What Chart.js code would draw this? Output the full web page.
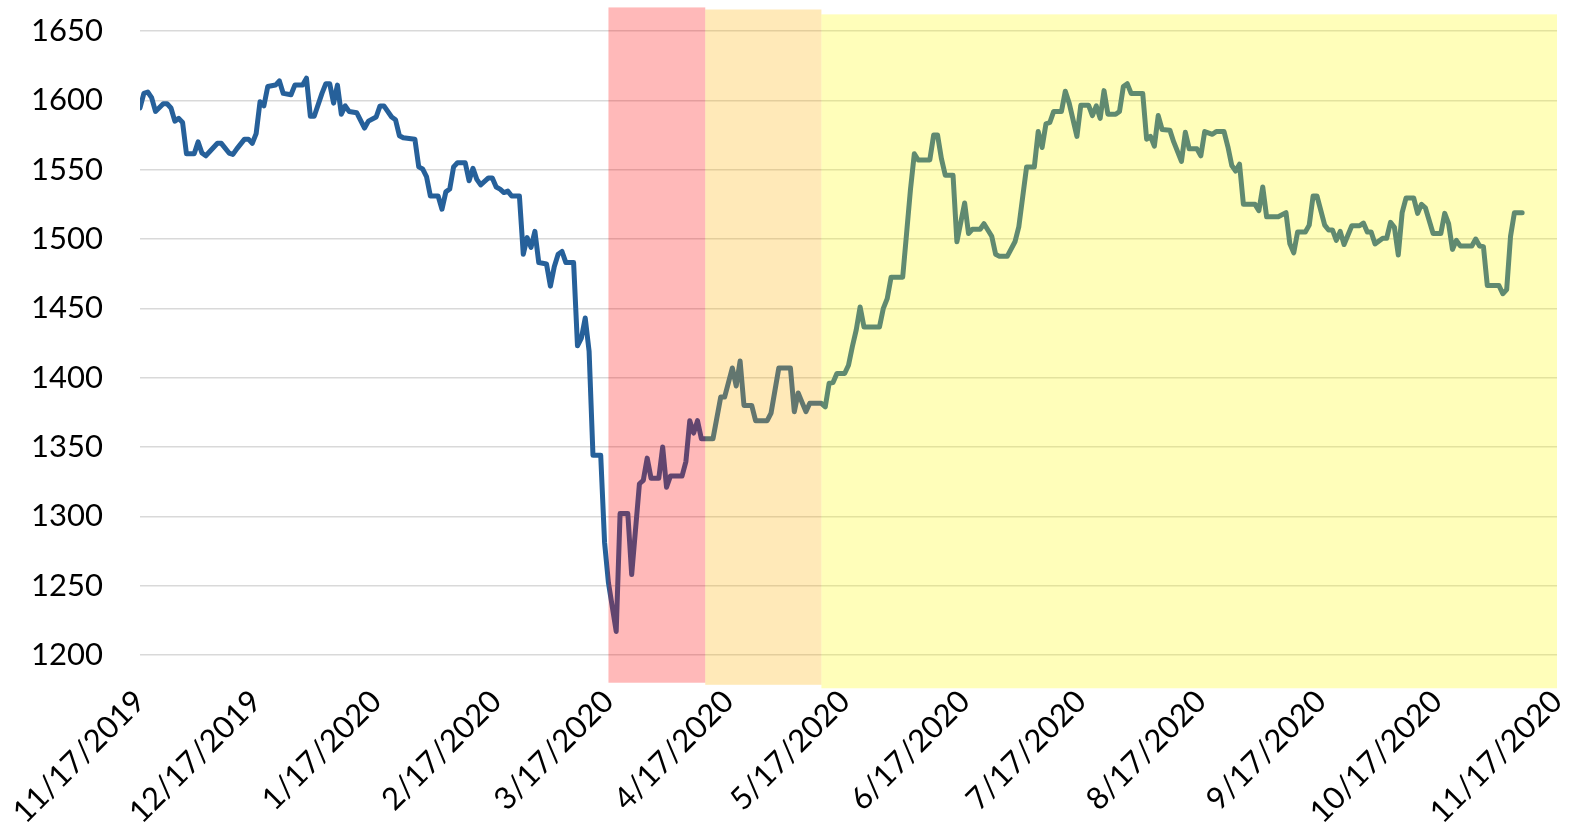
<!DOCTYPE html>
<html>
<head>
<meta charset="utf-8">
<script src="https://cdn.jsdelivr.net/npm/chart.js@4.4.1/dist/chart.umd.min.js"></script>
<style>
  html, body { margin: 0; padding: 0; background: #fff; }
  #wrap { width: 1569px; height: 839px; }
</style>
</head>
<body>
<div id="wrap"><canvas id="priceChart" width="1569" height="839"></canvas></div>
<script>
// Dades: dies des de la data inicial i valor de tancament
const startDate = '11/17/2019';
const dayOffsets = [
  0, 1, 2, 3, 4, 6, 7, 8, 9, 10, 11, 12, 14, 15, 16, 17, 20, 21, 23, 24,
  25, 27, 28, 29, 30, 31, 32, 33, 35, 36, 37, 39, 40, 42, 43, 44, 45, 47, 48, 49,
  50, 51, 52, 53, 54, 56, 58, 59, 61, 62, 63, 65, 66, 67, 68, 71, 72, 73, 74, 75,
  77, 78, 79, 80, 81, 82, 84, 85, 86, 87, 88, 90, 91, 92, 93, 94, 95, 96, 98, 99,
  100, 101, 102, 103, 105, 106, 107, 108, 109, 110, 112, 113, 114, 115, 116, 117, 119, 120, 121, 123,
  124, 126, 127, 129, 130, 131, 132, 134, 135, 136, 137, 140, 141, 142, 143, 144, 145, 148, 150, 151,
  153, 154, 155, 156, 158, 159, 162, 163, 165, 168, 169, 170, 172, 173, 176, 177, 178, 179, 180, 182,
  183, 184, 185, 186, 187, 191, 192, 193, 194, 197, 198, 199, 200, 201, 204, 205, 206, 207, 208, 210,
  211, 213, 214, 215, 217, 218, 220, 221, 222, 224, 226, 227, 229, 231, 232, 233, 234, 235, 236, 238,
  239, 240, 242, 243, 245, 246, 247, 248, 249, 250, 252, 253, 254, 255, 256, 259, 260, 261, 262, 263,
  264, 266, 267, 269, 270, 271, 273, 274, 275, 277, 278, 280, 281, 282, 283, 284, 285, 288, 289, 290,
  291, 294, 296, 297, 298, 299, 301, 302, 303, 304, 306, 307, 308, 309, 310, 311, 313, 315, 316, 317,
  318, 319, 321, 322, 323, 324, 325, 326, 327, 329, 330, 331, 332, 334, 336, 337, 338, 339, 340, 341,
  344, 345, 346, 347, 348, 351, 352, 353, 354, 355, 357
];
const prices = [
  1594.5, 1605, 1606, 1602, 1592, 1597.5, 1597.5, 1594.5, 1585, 1587, 1584, 1561.5, 1561.5, 1570, 1562, 1560, 1569, 1569, 1562, 1561,
  1565, 1572, 1572, 1569, 1576, 1599, 1596, 1610, 1611, 1614, 1605, 1604, 1611, 1611, 1616, 1588.5, 1588.5, 1605, 1612, 1612,
  1598, 1611, 1590, 1596, 1592, 1591, 1580, 1585, 1588, 1596, 1596, 1588, 1586, 1574.5, 1573, 1572, 1552, 1550.5, 1545, 1531,
  1531, 1521.5, 1534, 1536, 1552, 1555, 1555, 1542, 1551, 1543, 1539, 1544, 1544, 1537.5, 1536, 1533.5, 1534.5, 1531, 1531, 1489,
  1501, 1494, 1505.5, 1483, 1482, 1466, 1480, 1489, 1491, 1483, 1483, 1423, 1428.5, 1443, 1419, 1344, 1344, 1281, 1252, 1217,
  1302, 1302, 1258, 1323.5, 1326, 1342, 1327.5, 1327.5, 1350, 1321, 1329, 1329, 1339.5, 1369, 1360, 1369, 1356, 1356, 1386, 1386,
  1407, 1394, 1412, 1380, 1380, 1369, 1369, 1374.5, 1407, 1407, 1375.5, 1389, 1375.5, 1381.5, 1381.5, 1379, 1396, 1396.5, 1403, 1403,
  1409, 1422.5, 1434.5, 1451, 1436.5, 1436.5, 1450, 1457, 1472.5, 1472.5, 1504, 1535.5, 1561.5, 1557, 1557, 1575, 1575, 1558, 1546, 1546,
  1498, 1526, 1504, 1507, 1507, 1511, 1502, 1489, 1487.5, 1487.5, 1498, 1509, 1552, 1552, 1577.5, 1566, 1583, 1584, 1592, 1592,
  1606.5, 1598, 1574, 1596.5, 1596.5, 1589, 1596, 1587, 1607, 1590, 1590, 1592, 1610, 1612, 1605, 1605, 1572, 1574, 1567, 1589,
  1579, 1578.5, 1570, 1556, 1577, 1565, 1565, 1560, 1577.5, 1575.5, 1577.5, 1577.5, 1566.5, 1553, 1549, 1554, 1525, 1525, 1520.5, 1537.5,
  1516, 1516, 1519, 1496.5, 1490, 1505, 1505, 1510, 1531, 1531, 1510, 1506.5, 1506.5, 1499, 1505.5, 1496, 1509.5, 1509.5, 1511.5, 1505,
  1505, 1496.5, 1500.5, 1500.5, 1512, 1508.5, 1488.5, 1519, 1529.5, 1529.5, 1518.5, 1525, 1522.5, 1504, 1504, 1518.5, 1511, 1492.5, 1499, 1495,
  1495, 1500, 1495, 1494.5, 1466.5, 1466.5, 1460.5, 1463.5, 1502, 1519, 1519
];

// Etiquetes de l'eix X (una per mes)
const tickDates = [
  '11/17/2019', '12/17/2019', '1/17/2020', '2/17/2020', '3/17/2020', '4/17/2020', '5/17/2020',
  '6/17/2020', '7/17/2020', '8/17/2020', '9/17/2020', '10/17/2020', '11/17/2020'
];
const yMin = 1200;
const yMax = 1650;
const yStep = 50;

// Franges de colors (períodes)
const periodStart = ['3/17/2020', '4/11/2020', '5/11/2020'];
const periodEnd = ['4/11/2020', '5/11/2020', '11/17/2020'];
const periodHigh = [1667, 1665.5, 1662];
const periodLow = [1180, 1178.5, 1176];
const periodColors = ['rgba(255,0,0,0.275)', 'rgba(255,176,0,0.28)', 'rgba(255,250,0,0.27)'];

// Converteix 'm/d/yyyy' a dies des de la data inicial
function dayOf(str) {
  const [m, d, y] = str.split('/').map(Number);
  const [m0, d0, y0] = startDate.split('/').map(Number);
  return Math.round((Date.UTC(y, m - 1, d) - Date.UTC(y0, m0 - 1, d0)) / 864e5);
}

const tickDays = tickDates.map(dayOf);

// Plugin: pinta les franges per sobre de la línia
const periodShading = {
  id: 'periodShading',
  afterDatasetsDraw(chart) {
    const { ctx, scales: { x, y } } = chart;
    ctx.save();
    periodStart.forEach((s, i) => {
      const x0 = x.getPixelForValue(dayOf(s));
      const x1 = x.getPixelForValue(dayOf(periodEnd[i]));
      const y0 = y.getPixelForValue(periodHigh[i]);
      const y1 = y.getPixelForValue(periodLow[i]);
      ctx.fillStyle = periodColors[i];
      ctx.fillRect(x0, y0, x1 - x0, y1 - y0);
    });
    ctx.restore();
  }
};

const labelFont = { family: 'Lato', size: 31 };

const ctx = document.getElementById('priceChart').getContext('2d');
window.priceChart = new Chart(ctx, {
  type: 'line',
  data: {
    datasets: [{
      data: dayOffsets.map((d, i) => ({ x: d, y: prices[i] })),
      borderColor: '#26609a',
      borderWidth: 5,
      pointRadius: 0,
      tension: 0,
      borderJoinStyle: 'round',
      borderCapStyle: 'round'
    }]
  },
  options: {
    responsive: false,
    animation: false,
    layout: { padding: { top: 31, right: 12, bottom: 0, left: 0 } },
    plugins: { legend: { display: false }, tooltip: { enabled: false } },
    scales: {
      x: {
        type: 'linear',
        min: 0,
        max: tickDays[tickDays.length - 1],
        afterBuildTicks: (axis) => { axis.ticks = tickDays.map(v => ({ value: v })); },
        afterFit: (axis) => {
          axis.height = 184;
          axis.paddingLeft = 0;
          axis.paddingRight = 0;
        },
        grid: { display: false },
        border: { display: false },
        ticks: {
          autoSkip: false,
          minRotation: 45,
          maxRotation: 45,
          padding: 20,
          color: '#000',
          font: labelFont,
          callback: (v) => tickDates[tickDays.indexOf(v)]
        }
      },
      y: {
        min: yMin,
        max: yMax,
        afterFit: (axis) => {
          axis.width = 140;
          axis.paddingTop = 0;
          axis.paddingBottom = 0;
        },
        grid: { color: '#d9d9d9', lineWidth: 1.5, drawTicks: false },
        border: { display: false },
        ticks: {
          stepSize: yStep,
          padding: 37,
          color: '#000',
          font: labelFont,
          callback: (v) => String(v)
        }
      }
    }
  },
  plugins: [periodShading]
});
</script>
</body>
</html>
